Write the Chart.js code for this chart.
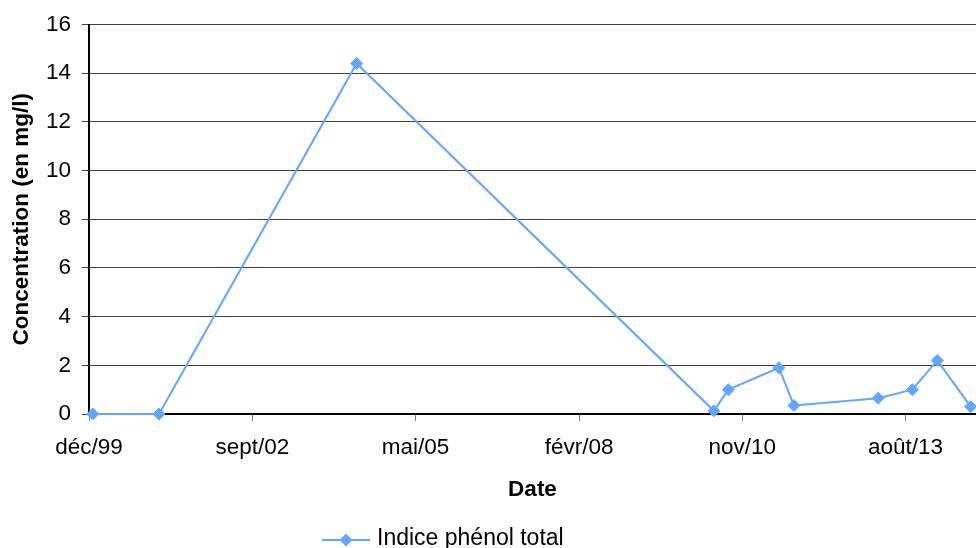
<!DOCTYPE html>
<html lang="fr">
<head>
<meta charset="UTF-8">
<title>Indice phénol total</title>
<script src="https://cdn.jsdelivr.net/npm/chart.js@4"></script>
<style>
  html, body { margin: 0; padding: 0; background: #fff; }
  canvas { display: block; }
</style>
</head>
<body>
<canvas id="phenol_chart" width="976" height="548"></canvas>
<script>
// Dates de prélèvement et concentrations mesurées (mg/l)
const datesPrelevement = ['1999-12-30', '2001-02-08', '2004-06-02', '2010-05-30', '2010-08-26',
                          '2011-07-02', '2011-10-02', '2013-03-01', '2013-09-26', '2014-02-26', '2014-09-18'];
const indicePhenol = [0, 0, 14.4, 0.13, 1.0, 1.9, 0.35, 0.65, 1.0, 2.2, 0.3];

// Graduations de l'axe des dates (pas de 1000 jours)
const datesGraduations = ['1999-12-07', '2002-09-02', '2005-05-29', '2008-02-24', '2010-11-19', '2013-08-15'];
const libellesGraduations = ['déc/99', 'sept/02', 'mai/05', 'févr/08', 'nov/10', 'août/13'];
const dateFinAxe = '2014-10-21';

const bleu = '#63a6ff';
const origine = Date.parse(datesGraduations[0]);
const jours = d => (Date.parse(d) - origine) / 86400000;

Chart.defaults.font.family = '"Liberation Sans", Arial, sans-serif';
Chart.defaults.font.size = 22.5;
Chart.defaults.color = '#000';

// Légende dessinée à la main : trait + losange comme dans Excel
const legendeBas = {
  id: 'legendeBas',
  afterDraw(chart) {
    const ctx = chart.ctx;
    const ds = chart.data.datasets[0];
    const x0 = 322, y = 540, r = 6.5;
    ctx.save();
    ctx.strokeStyle = ds.borderColor;
    ctx.lineWidth = 2;
    ctx.beginPath();
    ctx.moveTo(x0, y);
    ctx.lineTo(x0 + 48, y);
    ctx.stroke();
    ctx.fillStyle = ds.pointBackgroundColor;
    ctx.beginPath();
    ctx.moveTo(x0 + 24 - r, y);
    ctx.lineTo(x0 + 24, y - r);
    ctx.lineTo(x0 + 24 + r, y);
    ctx.lineTo(x0 + 24, y + r);
    ctx.closePath();
    ctx.fill();
    ctx.fillStyle = '#000';
    ctx.font = '23px "Liberation Sans", Arial, sans-serif';
    ctx.textBaseline = 'middle';
    ctx.fillText(ds.label, x0 + 55, 538.5);
    ctx.restore();
  }
};

new Chart(document.getElementById('phenol_chart'), {
  type: 'line',
  data: {
    datasets: [{
      label: 'Indice phénol total',
      data: datesPrelevement.map((d, i) => ({ x: jours(d), y: indicePhenol[i] })),
      borderColor: bleu,
      backgroundColor: bleu,
      pointBackgroundColor: bleu,
      pointBorderColor: bleu,
      borderWidth: 2,
      pointStyle: 'rectRot',
      pointRadius: 6,
      pointBorderWidth: 1,
      tension: 0,
      clip: false
    }]
  },
  options: {
    responsive: false,
    animation: false,
    layout: { autoPadding: false, padding: { top: 22, right: 0, bottom: 0, left: 0 } },
    plugins: {
      legend: { display: false },
      tooltip: { enabled: false }
    },
    scales: {
      x: {
        type: 'linear',
        min: 0,
        max: jours(dateFinAxe),
        afterBuildTicks: scale => {
          scale.ticks = datesGraduations.map(d => ({ value: jours(d) }));
        },
        afterFit: scale => {
          scale.height = 134;
          scale.paddingLeft = 0;
          scale.paddingRight = 0;
        },
        ticks: {
          autoSkip: false,
          maxRotation: 0,
          padding: 13.5,
          callback: (v, i) => libellesGraduations[i]
        },
        grid: { drawOnChartArea: false, drawTicks: true, tickLength: 7, color: '#808080' },
        border: { color: '#000', width: 2 },
        title: {
          display: true,
          text: 'Date',
          font: { weight: 'bold', size: 22.5 },
          padding: { top: 0, bottom: 45 }
        }
      },
      y: {
        min: 0,
        max: 16,
        afterFit: scale => { scale.width = 89; },
        ticks: { stepSize: 2, padding: 11 },
        grid: { color: '#404040', lineWidth: 1, tickLength: 7 },
        border: { color: '#000', width: 2 },
        title: {
          display: true,
          text: 'Concentration (en mg/l)',
          font: { weight: 'bold', size: 22.5 },
          padding: { top: 8, bottom: 0 }
        }
      }
    }
  },
  plugins: [legendeBas]
});
</script>
</body>
</html>
